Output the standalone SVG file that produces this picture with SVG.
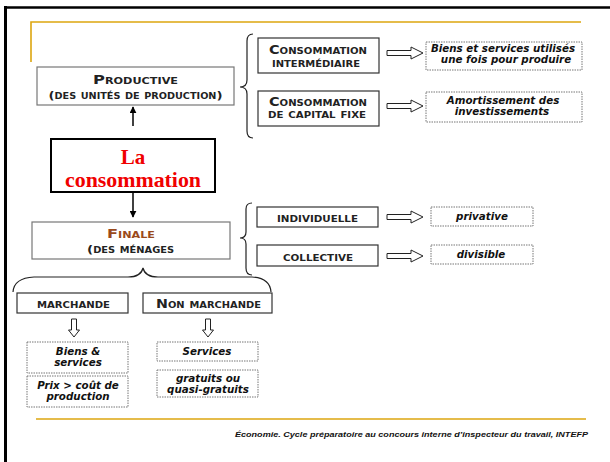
<svg xmlns="http://www.w3.org/2000/svg" width="610" height="462" viewBox="0 0 610 462">
<defs>
<style>
.sc{font-family:"DejaVu Sans",sans-serif;font-weight:bold;font-variant:small-caps;fill:#222;text-anchor:middle}
.it{font-family:"DejaVu Sans",sans-serif;font-weight:bold;font-style:italic;font-size:10.3px;fill:#111;text-anchor:middle}
.box{fill:#fff;stroke:#333;stroke-width:1.2}
.gbox{fill:#fff;stroke:#777;stroke-width:1.2}
.dot{fill:#fff;stroke:#777;stroke-width:1;stroke-dasharray:1.5 1}
.gold{stroke:#DDA60F;stroke-width:1.6;fill:none}
.brace{fill:none;stroke:#222;stroke-width:1.2}
.hollow{fill:#fff;stroke:#222;stroke-width:1}
.conn{stroke:#000;stroke-width:1.5;fill:none}
</style>
<marker id="ah" viewBox="0 0 10 10" refX="9" refY="5" markerWidth="7" markerHeight="7" markerUnits="userSpaceOnUse" orient="auto">
<path d="M0,0 L10,5 L0,10 z" fill="#000"/>
</marker>
<path id="harr" d="M0,-2.5 L24,-2.5 L24,-6 L36,0 L24,6 L24,2.5 L0,2.5 z"/>
<path id="varr" d="M-2.5,0 L-2.5,11 L-5.5,11 L0,18 L5.5,11 L2.5,11 L2.5,0 z"/>
</defs>
<rect width="610" height="462" fill="#fff"/>
<!-- frame -->
<line x1="5.5" y1="6" x2="5.5" y2="462" stroke="#000" stroke-width="3"/>
<line x1="4" y1="7.5" x2="610" y2="7.5" stroke="#000" stroke-width="2.5"/>
<path class="gold" d="M31,62 L31,22 L581,22"/>
<line class="gold" x1="36" y1="419" x2="586" y2="419"/>
<text x="588" y="437" text-anchor="end" font-family="Liberation Sans, Arial, sans-serif" font-style="italic" font-weight="bold" font-size="8" textLength="353" lengthAdjust="spacingAndGlyphs" fill="#111">Économie. Cycle préparatoire au concours interne d’inspecteur du travail, INTEFP</text>

<g id="connectors">
<line class="conn" x1="133" y1="126" x2="133" y2="107" marker-end="url(#ah)"/>
<line class="conn" x1="133" y1="193" x2="133" y2="217" marker-end="url(#ah)"/>
<path class="brace" d="M253,34 Q247,34 247,41 L247,80 Q247,87 240,87 Q247,87 247,94 L247,131 Q247,138 253,138"/>
<path class="brace" d="M252,203 Q246,203 246,209 L246,232 Q246,238 240,238 Q246,238 246,244 L246,268 Q246,275 252,275"/>
<path class="brace" d="M13,292 Q14,278 34,277 L128,277 Q141,277 143,268 Q145,277 158,277 L252,277 Q270,278 271,292"/>
<use href="#harr" class="hollow" x="387" y="53"/>
<use href="#harr" class="hollow" x="387" y="106"/>
<use href="#harr" class="hollow" x="387" y="217"/>
<use href="#harr" class="hollow" x="387" y="256"/>
<use href="#varr" class="hollow" x="74" y="319"/>
<use href="#varr" class="hollow" x="208" y="319"/>
</g>

<g id="productive">
<rect class="gbox" x="37" y="67" width="197" height="38"/>
<text class="sc" x="135.5" y="84" font-size="13" textLength="85" lengthAdjust="spacingAndGlyphs">Productive</text>
<text class="sc" x="135.5" y="99" font-size="11" textLength="174" lengthAdjust="spacingAndGlyphs">(des unités de production)</text>
</g>

<g id="consommation">
<rect x="51" y="139" width="164" height="53" fill="#fff" stroke="#000" stroke-width="2"/>
<text x="133" y="164" text-anchor="middle" font-family="Liberation Serif, serif" font-weight="bold" font-size="21" fill="#F00000">La</text>
<text x="133" y="187" text-anchor="middle" font-family="Liberation Serif, serif" font-weight="bold" font-size="21" fill="#F00000" textLength="136" lengthAdjust="spacingAndGlyphs">consommation</text>
</g>

<g id="finale">
<rect class="gbox" x="32" y="222" width="198" height="37"/>
<text class="sc" x="131" y="238" font-size="13" style="fill:#9A4A1C" textLength="48" lengthAdjust="spacingAndGlyphs">Finale</text>
<text class="sc" x="130.5" y="253" font-size="11" textLength="87" lengthAdjust="spacingAndGlyphs">(des ménages</text>
</g>

<g id="conso-inter">
<rect class="box" x="258" y="38" width="121" height="35"/>
<text class="sc" x="318" y="54" font-size="11.5" textLength="98" lengthAdjust="spacingAndGlyphs">Consommation</text>
<text class="sc" x="316" y="67" font-size="11" textLength="88" lengthAdjust="spacingAndGlyphs">intermédiaire</text>
</g>

<g id="conso-capital">
<rect class="box" x="258" y="91" width="121" height="35"/>
<text class="sc" x="318" y="106" font-size="11.5" textLength="98" lengthAdjust="spacingAndGlyphs">Consommation</text>
<text class="sc" x="317" y="118" font-size="11" textLength="98" lengthAdjust="spacingAndGlyphs">de capital fixe</text>
</g>

<g id="biens-utilises">
<rect class="dot" x="426" y="42" width="156" height="28"/>
<text class="it" x="503" y="52">Biens et services utilisés</text>
<text class="it" x="506" y="63">une fois pour produire</text>
</g>

<g id="amortissement">
<rect class="dot" x="426" y="92" width="156" height="30"/>
<text class="it" x="503" y="104">Amortissement des</text>
<text class="it" x="502" y="115">investissements</text>
</g>

<g id="individuelle">
<rect class="box" x="257" y="207" width="121" height="20"/>
<text class="sc" x="317.5" y="222" font-size="11" textLength="81" lengthAdjust="spacingAndGlyphs">individuelle</text>
</g>

<g id="collective">
<rect class="box" x="257" y="245" width="121" height="21"/>
<text class="sc" x="318" y="261" font-size="11" textLength="70" lengthAdjust="spacingAndGlyphs">collective</text>
</g>

<g id="privative">
<rect class="dot" x="431" y="207" width="102" height="19"/>
<text class="it" x="482" y="220">privative</text>
</g>

<g id="divisible">
<rect class="dot" x="431" y="245" width="102" height="19"/>
<text class="it" x="481" y="258">divisible</text>
</g>

<g id="marchande">
<rect class="box" x="17" y="293" width="111" height="20"/>
<text class="sc" x="73.5" y="308" font-size="11" textLength="73" lengthAdjust="spacingAndGlyphs">marchande</text>
</g>

<g id="non-marchande">
<rect class="box" x="143" y="293" width="129" height="20"/>
<text class="sc" x="208.5" y="308" font-size="11.5" textLength="105" lengthAdjust="spacingAndGlyphs">Non marchande</text>
</g>

<g id="biens-services">
<rect class="dot" x="27" y="342" width="101" height="31"/>
<text class="it" x="78" y="355">Biens &amp;</text>
<text class="it" x="78" y="366">services</text>
</g>

<g id="prix">
<rect class="dot" x="27" y="376" width="101" height="31"/>
<text class="it" x="78" y="389">Prix &gt; coût de</text>
<text class="it" x="78" y="400">production</text>
</g>

<g id="services">
<rect class="dot" x="157" y="342" width="101" height="19"/>
<text class="it" x="207" y="355">Services</text>
</g>

<g id="gratuits">
<rect class="dot" x="157" y="370" width="101" height="27"/>
<text class="it" x="208" y="382">gratuits ou</text>
<text class="it" x="208" y="393">quasi-gratuits</text>
</g>
</svg>
